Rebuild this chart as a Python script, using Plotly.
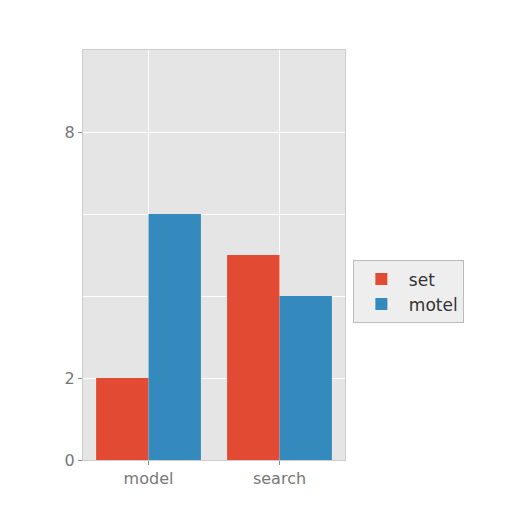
import plotly.graph_objects as go

categories = ["model", "search"]
set_values = [2, 5]
motel_values = [6, 4]

y_tickvals = [0, 2, 8]
y_minor_grid = [4, 6, 10]

RED = "#E24A33"
BLUE = "#348ABD"

fig = go.Figure()
fig.add_trace(go.Bar(x=categories, y=set_values, name="set",
                     marker=dict(color=RED, line=dict(width=0))))
fig.add_trace(go.Bar(x=categories, y=motel_values, name="motel",
                     marker=dict(color=BLUE, line=dict(width=0))))

fig.update_layout(
    width=512, height=512,
    barmode="group", bargap=0.2, bargroupgap=0,
    paper_bgcolor="white",
    plot_bgcolor="#E5E5E5",
    margin=dict(l=75, r=175, t=42, b=60),
    font=dict(family="DejaVu Sans", size=16, color="#777777"),
    legend=dict(
        x=1.03, y=0.41, xanchor="left", yanchor="middle",
        bgcolor="#EEEEEE", bordercolor="#BBBBBB", borderwidth=1,
        font=dict(size=17, color="#333333"),
        itemwidth=45,
    ),
    xaxis=dict(
        range=[-0.5, 1.5], showgrid=True, gridcolor="white", gridwidth=1,
        ticks="outside", ticklen=4, tickcolor="#888888",
        showline=True, linecolor="#CCCCCC", mirror=True,
        zeroline=False,
    ),
    yaxis=dict(
        range=[0, 10], tickvals=y_tickvals,
        showgrid=True, gridcolor="white", gridwidth=1,
        ticks="outside", ticklen=4, tickcolor="#888888",
        minor=dict(tickvals=y_minor_grid, showgrid=True, gridcolor="white",
                   gridwidth=1, ticks=""),
        showline=True, linecolor="#CCCCCC", mirror=True,
        zeroline=False,
    ),
)

fig.write_html("out.html")
